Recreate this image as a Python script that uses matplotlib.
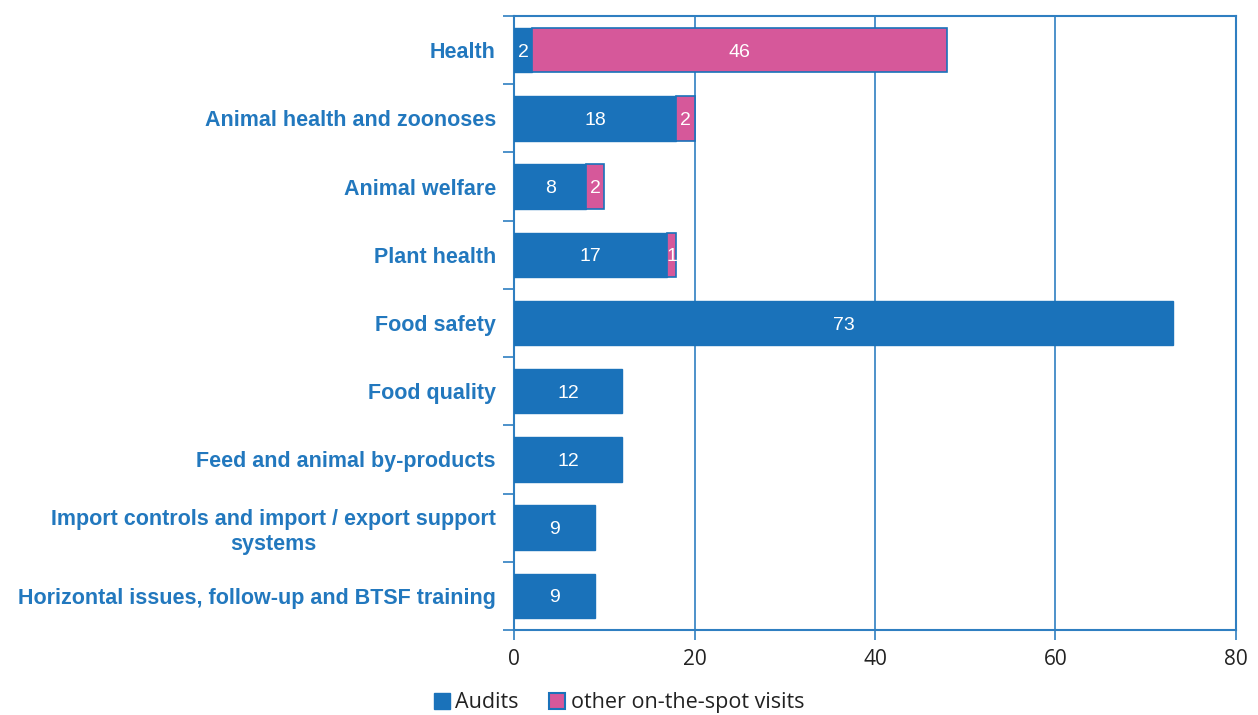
import matplotlib
matplotlib.use("Agg")
import matplotlib.pyplot as plt
from matplotlib.patches import Patch

categories = ["Health", "Animal health and zoonoses", "Animal welfare", "Plant health",
              "Food safety", "Food quality", "Feed and animal by-products",
              "Import controls and import / export support\nsystems",
              "Horizontal issues, follow-up and BTSF training"]
audits = [2, 18, 8, 17, 73, 12, 12, 9, 9]
other = [46, 2, 2, 1, 0, 0, 0, 0, 0]
xticks = [0, 20, 40, 60, 80]

BLUE = "#1A72BA"
PINK = "#D6589A"
LINE = "#2F7FC1"

fig = plt.figure(figsize=(12.58, 7.15), dpi=100)
ax = fig.add_axes([0.4086, 0.1189, 0.5739, 0.8587])

n = len(categories)
ys = list(range(n))
h = 0.65
ax.barh(ys, audits, height=h, color=BLUE, edgecolor=BLUE, linewidth=1, zorder=3)
ax.barh(ys, other, left=audits, height=h, color=PINK,
        edgecolor=[BLUE if o > 0 else "none" for o in other], linewidth=1.2, zorder=3)

for y, a, o in zip(ys, audits, other):
    if a > 0:
        ax.text(a / 2, y, str(a), ha="center", va="center_baseline", color="white",
                fontsize=14, family="Liberation Sans", zorder=4)
    if o > 0:
        ax.text(a + o / 2, y, str(o), ha="center", va="center_baseline", color="white",
                fontsize=14, family="Liberation Sans", zorder=4)

ax.set_ylim(n - 0.5, -0.5)
ax.set_xlim(0, 80)
ax.set_xticks(xticks)
ax.set_xticklabels([str(t) for t in xticks], fontsize=15, color="#222222", family="Open Sans")
ax.set_yticks(ys)
ax.set_yticklabels(categories, fontsize=15.5, fontweight="bold", color="#2278BE",
                   family="Liberation Sans", ha="right", multialignment="center",
                   linespacing=1.25)
ax.tick_params(axis="y", length=0, pad=13)
ax.tick_params(axis="x", length=7, color=LINE, width=1.2, pad=7)
ax.set_yticks([i - 0.5 for i in range(n + 1)], minor=True)
ax.tick_params(axis="y", which="minor", length=8, color=LINE, width=1.2)

ax.grid(axis="x", color=LINE, linewidth=1.2, zorder=0)
for s in ax.spines.values():
    s.set_color(LINE)
    s.set_linewidth(1.5)

handles = [Patch(facecolor=BLUE, edgecolor=BLUE, label="Audits"),
           Patch(facecolor=PINK, edgecolor=BLUE, linewidth=1.5, label="other on-the-spot visits")]
fig.legend(handles=handles, loc="center", bbox_to_anchor=(0.492, 0.017), ncol=2,
           frameon=False, prop={"family": "Open Sans", "size": 15.5},
           handlelength=0.75, handleheight=0.75, handletextpad=0.25, columnspacing=1.4,
           labelcolor="#222222")

fig.savefig("out.png", dpi=100)
